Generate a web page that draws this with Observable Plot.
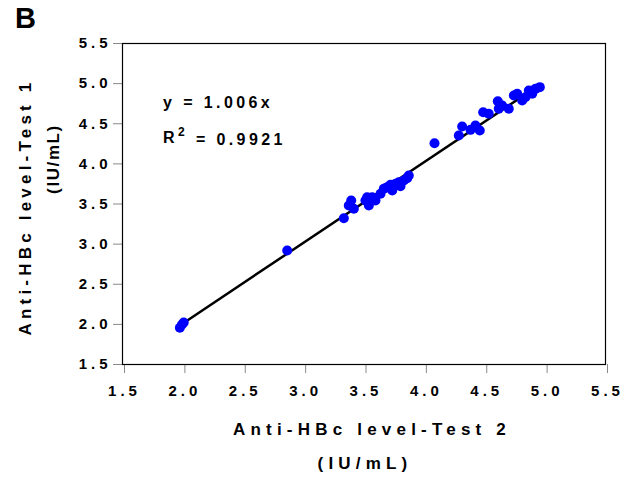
<!DOCTYPE html>
<html>
<head>
<meta charset="utf-8">
<script src="https://cdn.jsdelivr.net/npm/d3@7"></script>
<script src="https://cdn.jsdelivr.net/npm/@observablehq/plot@0.6"></script>
<style>
  html, body { margin: 0; padding: 0; background: #fff; }
  #chart svg text { font-family: "Liberation Sans", Arial, sans-serif; font-weight: bold; fill: #000; }
</style>
</head>
<body>
<div id="chart"></div>
<script>
// Anti-HBc level, Test 2 (x) vs Test 1 (y), IU/mL (log units as plotted)
const test2 = [1.975, 1.993, 2.007, 2.864,
  3.333, 3.374, 3.394, 3.416, 3.512, 3.540, 3.526, 3.568, 3.595, 3.637, 3.664, 3.692, 3.720, 3.734, 3.761, 3.788, 3.802, 3.830, 3.858, 3.871,
  4.084, 4.285, 4.313, 4.382, 4.423, 4.459, 4.487, 4.533, 4.608, 4.616,
  4.644, 4.699, 4.741, 4.769, 4.810, 4.837, 4.865, 4.893, 4.920, 4.956];
const test1 = [1.957, 1.999, 2.024, 2.921,
  3.323, 3.481, 3.544, 3.440, 3.544, 3.481, 3.585, 3.585, 3.544, 3.627, 3.689, 3.710, 3.739, 3.668, 3.752, 3.772, 3.722, 3.793, 3.822, 3.855,
  4.258, 4.354, 4.466, 4.424, 4.478, 4.416, 4.644, 4.624, 4.781, 4.686,
  4.727, 4.686, 4.852, 4.873, 4.790, 4.831, 4.914, 4.873, 4.935, 4.956];
const slope = 1.006;
const r2 = 0.9921;
const ticks = [1.5, 2.0, 2.5, 3.0, 3.5, 4.0, 4.5, 5.0, 5.5];
const xLabel = ["Anti-HBc level-Test 2", "(IU/mL)"];
const yLabel = ["Anti-HBc level-Test 1", "(IU/mL)"];
const panel = "B";

const W = 633, H = 479, ML = 122, MR = 28, MT = 43, MB = 115;
const points = test2.map((x, i) => ({x, y: test1[i]}));
const xExt = d3.extent(test2);
const fit = xExt.map(x => ({x, y: slope * x}));

const chart = Plot.plot({
  width: W,
  height: H,
  marginLeft: ML,
  marginRight: MR,
  marginTop: MT,
  marginBottom: MB,
  style: {background: "#fff", overflow: "visible"},
  x: {domain: [1.5, 5.5]},
  y: {domain: [1.5, 5.5]},
  marks: [
    Plot.axisX({ticks, tickFormat: d3.format(".1f"), tickSize: 9, tickPadding: 12, fontSize: 15, stroke: "#888", dx: 2, label: null}),
    Plot.axisY({ticks, tickFormat: d3.format(".1f"), tickSize: 9, tickPadding: 2, fontSize: 15, stroke: "#888", label: null}),
    Plot.frame({stroke: "#000", strokeWidth: 1.2}),
    Plot.line(fit, {x: "x", y: "y", stroke: "#000", strokeWidth: 2.5}),
    Plot.dot(points, {x: "x", y: "y", r: 5, fill: "#0000ff", stroke: "none"})
  ]
});
document.getElementById("chart").appendChild(chart);

const svg = d3.select(chart);
svg.selectAll('[aria-label="x-axis tick label"] text, [aria-label="y-axis tick label"] text').style("letter-spacing", "4px");

function label(x, y, txt, size, spacing, rotate = 0, anchor = "middle") {
  return svg.append("text")
    .attr("transform", `translate(${x},${y}) rotate(${rotate})`)
    .attr("text-anchor", anchor)
    .attr("dy", "0.36em")
    .attr("font-size", size)
    .style("letter-spacing", spacing + "px")
    .text(txt);
}
// axis titles
label(372, 429, xLabel[0], 17, 5.2);
label(365, 463, xLabel[1], 17, 5.2);
label(25, 207, yLabel[0], 17, 4.2, -90);
label(53, 159, yLabel[1], 17, 1.6, -90);
// panel letter
label(15, 18, panel, 29, 0, 0, "start");
// regression annotation
label(163, 102, `y = ${slope}x`, 16, 3.4, 0, "start");
const rt = label(163, 137, "R", 16, 3.4, 0, "start");
rt.append("tspan").attr("dy", "-0.55em").attr("font-size", 12).text("2");
rt.append("tspan").attr("dy", "0.55em").text(` = ${r2}`);
</script>
</body>
</html>
